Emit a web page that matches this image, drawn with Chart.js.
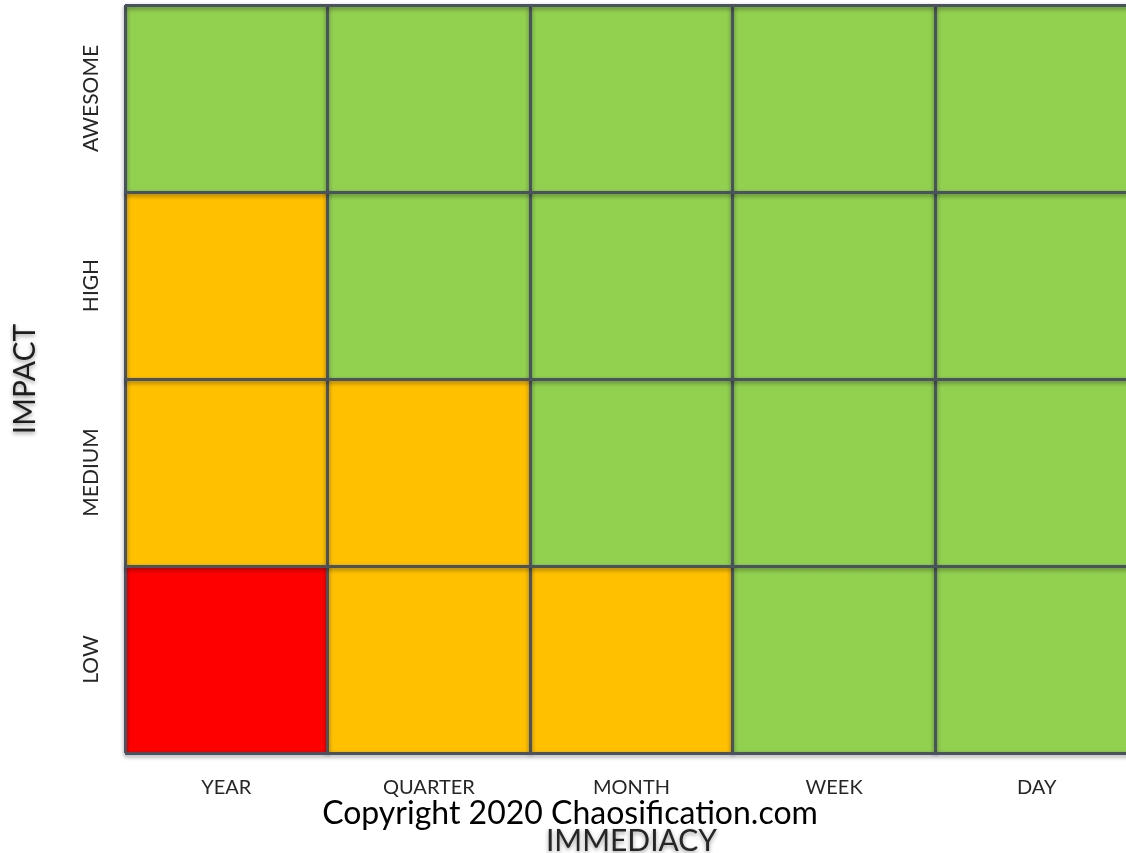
<!DOCTYPE html>
<html lang="en">
<head>
    <meta charset="UTF-8">
    <title>Impact vs Immediacy</title>
    <style>
        html, body { margin: 0; padding: 0; background: #fff; overflow: hidden; }
        .wrap { position: relative; width: 1126px; height: 853px; overflow: hidden; }
        .chart-box { position: absolute; left: 0; top: 0; width: 1140px; height: 853px; }
        .copyright {
            position: absolute; left: 0; width: 1140px; top: 793px;
            text-align: center; font-family: Lato, sans-serif; font-size: 32px;
            line-height: 1.2; color: #000;
        }
    </style>
</head>
<body>

<div class="wrap">
    <div class="chart-box">
        <canvas id="matrixChart" width="1140" height="853"></canvas>
    </div>
    <div class="copyright">Copyright 2020 Chaosification.com</div>
</div>

<script src="https://cdn.jsdelivr.net/npm/chart.js"></script>
<script>
    // Axis categories
    const columns = ['YEAR', 'QUARTER', 'MONTH', 'WEEK', 'DAY'];
    const rows = ['AWESOME', 'HIGH', 'MEDIUM', 'LOW'];

    // Rating of each cell, one array per row: 0 = red, 1 = amber, 2 = green
    const awesome = [2, 2, 2, 2, 2];
    const high = [1, 2, 2, 2, 2];
    const medium = [1, 1, 2, 2, 2];
    const low = [0, 1, 1, 2, 2];

    const levelColors = ['#ff0000', '#ffc000', '#92d050'];
    const lineColor = '#4a5262';
    const labelColor = '#262626';

    // stacked from the bottom row up
    const rowLevels = [low, medium, high, awesome];

    const datasets = rowLevels.map((levels, i) => ({
        label: rows[rows.length - 1 - i],
        data: levels.map(() => 1),
        backgroundColor: levels.map(l => levelColors[l]),
        borderWidth: 0,
        barPercentage: 1,
        categoryPercentage: 1,
        stack: 'grid'
    }));

    // soft shadow on everything drawn after the cells (grid lines, labels)
    const softShadow = {
        id: 'softShadow',
        beforeDraw(chart) {
            chart.ctx.shadowColor = 'rgba(0,0,0,0)';
            chart.ctx.shadowBlur = 0;
            chart.ctx.shadowOffsetY = 0;
        },
        afterDatasetsDraw(chart) {
            chart.ctx.shadowColor = 'rgba(0,0,0,0.4)';
            chart.ctx.shadowBlur = 4;
            chart.ctx.shadowOffsetY = 2;
        }
    };

    const noEdgePadding = scale => {
        scale.paddingTop = 0;
        scale.paddingBottom = 0;
        scale.paddingLeft = 0;
        scale.paddingRight = 0;
    };

    new Chart(document.getElementById('matrixChart').getContext('2d'), {
        type: 'bar',
        data: { labels: columns, datasets: datasets },
        plugins: [softShadow],
        options: {
            responsive: false,
            animation: false,
            layout: { padding: { top: 5, right: 2, left: 0, bottom: 0 } },
            plugins: { legend: { display: false }, tooltip: { enabled: false } },
            scales: {
                x: {
                    z: 1,
                    stacked: true,
                    grid: { z: 1, color: lineColor, lineWidth: 3, drawTicks: false, offset: true },
                    border: { display: false },
                    ticks: {
                        color: labelColor, padding: 23,
                        font: { family: 'Lato', size: 20 }
                    },
                    title: {
                        display: true, text: 'IMMEDIACY', color: labelColor,
                        font: { family: 'Lato', size: 30 }, padding: { top: 0, bottom: -6 }
                    },
                    afterFit: scale => { noEdgePadding(scale); scale.height = 100; }
                },
                y: {
                    display: false,
                    stacked: true,
                    min: 0,
                    max: rows.length
                },
                impact: {
                    z: 1,
                    type: 'category',
                    position: 'left',
                    labels: rows,
                    offset: true,
                    grid: { z: 1, color: lineColor, lineWidth: 3, drawTicks: false, offset: true },
                    border: { display: false },
                    ticks: {
                        color: labelColor, padding: -20, crossAlign: 'center',
                        minRotation: 90, maxRotation: 90,
                        font: { family: 'Lato', size: 21 }
                    },
                    title: {
                        display: true, text: 'IMPACT', color: '#1e1e1e',
                        font: { family: 'Lato', size: 30 },
                        padding: { top: 7, bottom: 0 }
                    },
                    afterFit: scale => { noEdgePadding(scale); scale.width = 125; }
                }
            }
        }
    });
</script>
</body>
</html>
